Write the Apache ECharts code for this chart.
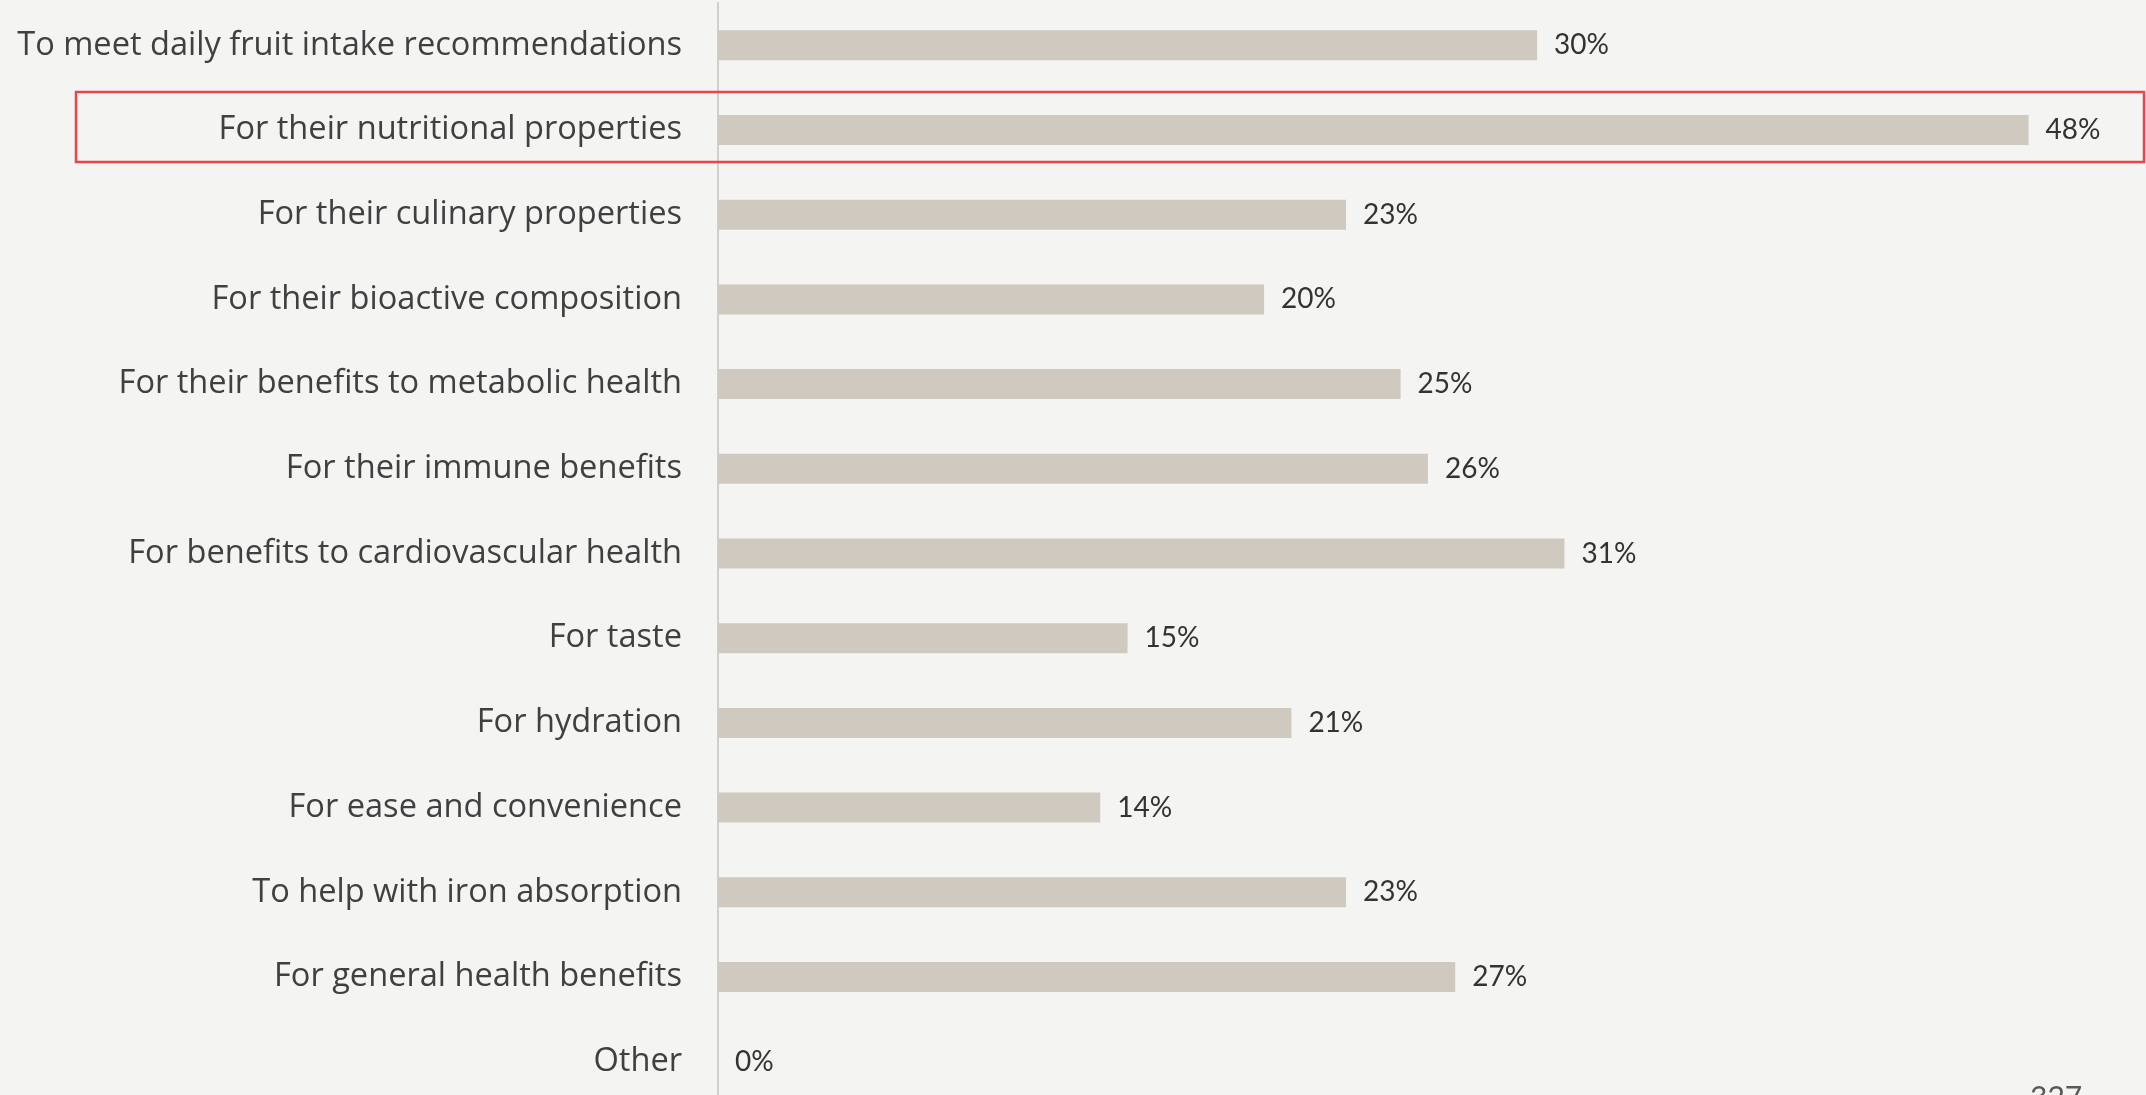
<!DOCTYPE html>
<html>
<head>
<meta charset="utf-8">
<script src="https://cdn.jsdelivr.net/npm/echarts@6/dist/echarts.min.js"></script>
<style>
  html, body { margin: 0; padding: 0; background: #f4f4f3; overflow: hidden; }
  /* the canvas is a little taller than the page so the last row can run off the bottom edge */
  #chart { width: 2146px; height: 1112px; }
</style>
</head>
<body>
<div id="chart"></div>
<script>
// Reasons for eating the fruit (share of respondents, %)
const categories = [
  'To meet daily fruit intake recommendations',
  'For their nutritional properties',
  'For their culinary properties',
  'For their bioactive composition',
  'For their benefits to metabolic health',
  'For their immune benefits',
  'For benefits to cardiovascular health',
  'For taste',
  'For hydration',
  'For ease and convenience',
  'To help with iron absorption',
  'For general health benefits',
  'Other'
];
const values = [30, 48, 23, 20, 25, 26, 31, 15, 21, 14, 23, 27, 0];
const highlighted = 'For their nutritional properties';
const pageNumber = '327';

const LABEL_FONT = '"Open Sans", "Noto Sans", "Liberation Sans", sans-serif';
const VALUE_FONT = 'Lato, "Open Sans", "Liberation Sans", sans-serif';
const chart = echarts.init(document.getElementById('chart'), null, { renderer: 'canvas' });

chart.setOption({
  backgroundColor: '#f4f4f3',
  animation: false,
  grid: { left: 718, right: 0, top: 3, height: 1101, containLabel: false },
  xAxis: {
    type: 'value',
    min: 0,
    max: 52.3,
    show: false
  },
  yAxis: {
    type: 'category',
    data: categories,
    inverse: true,
    axisLine: { show: true, lineStyle: { color: '#cfcfcf', width: 2 } },
    axisTick: { show: false },
    axisLabel: {
      color: '#404040',
      fontFamily: LABEL_FONT,
      fontSize: 32.6,
      margin: 36,
      align: 'right'
    }
  },
  series: [{
    type: 'bar',
    data: values,
    barWidth: 30,
    itemStyle: { color: '#d0c9c0' },
    label: {
      show: true,
      position: 'right',
      distance: 17,
      formatter: p => p.value + '%',
      color: '#333333',
      fontFamily: VALUE_FONT,
      fontSize: 28
    }
  }]
});

// Highlight frame around the emphasised row, plus the page number
const rowY = chart.convertToPixel({ yAxisIndex: 0 }, highlighted);
chart.setOption({
  graphic: [
    {
      type: 'rect',
      shape: { x: 76, y: rowY - 38, width: 2068, height: 70 },
      style: { fill: 'none', stroke: '#e8464a', lineWidth: 2.5 },
      z: 10
    },
    {
      type: 'text',
      x: 2030,
      y: 1083,
      style: {
        text: pageNumber,
        fill: '#595959',
        font: '30px ' + VALUE_FONT,
        textVerticalAlign: 'top'
      },
      z: 10
    }
  ]
});
</script>
</body>
</html>
